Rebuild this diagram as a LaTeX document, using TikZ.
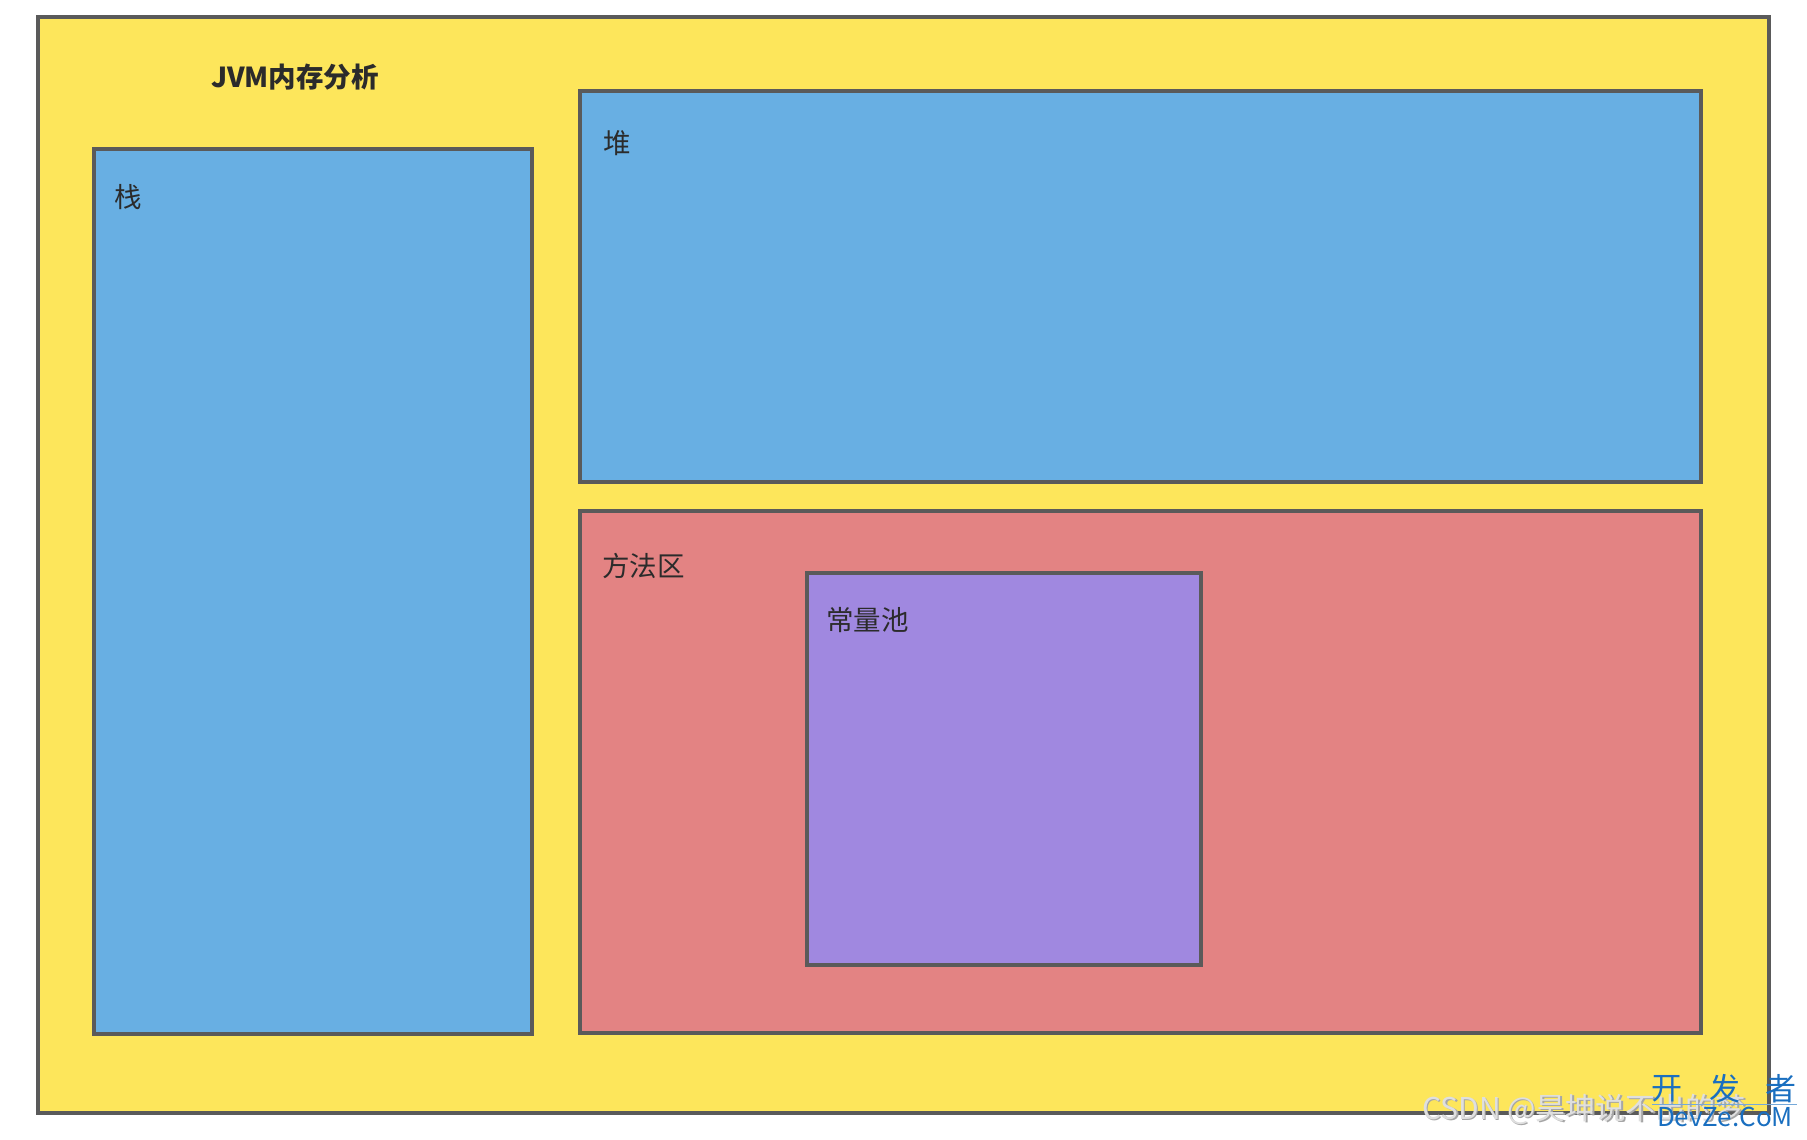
\documentclass[tikz,border=0pt]{standalone}
\usepackage{fontspec}
\setmainfont{Noto Sans CJK SC}
\newfontfamily\cjk{Noto Sans CJK SC}
\definecolor{bgyellow}{HTML}{FDE65B}
\definecolor{boxblue}{HTML}{68AFE3}
\definecolor{boxred}{HTML}{E38383}
\definecolor{boxpurple}{HTML}{A088E0}
\definecolor{edge}{HTML}{5A5A5A}
\definecolor{txt}{HTML}{2B2B2B}
\definecolor{wmblue}{HTML}{1A6FC0}
\begin{document}
\begin{tikzpicture}[x=1pt,y=-1pt,
  region/.style={draw=edge,line width=3.4pt},
  lbl/.style={anchor=west,inner sep=0pt,text=txt,font=\fontsize{27.5}{30}\selectfont\cjk}]
\useasboundingbox (0,0) rectangle (1807,1140);
\fill[white] (0,0) rectangle (1807,1140);
% outer
\draw[region,fill=bgyellow] (38,17) rectangle (1769,1113);
\node[inner sep=0pt,text=txt,font=\fontsize{27.5}{30}\selectfont\bfseries\cjk] (title) at (295,77) {JVM内存分析};
% stack
\draw[region,fill=boxblue] (94,149) rectangle (532,1034);
\node[lbl] (stack) at (114,197) {栈};
% heap
\draw[region,fill=boxblue] (580,91) rectangle (1701,482);
\node[lbl] (heap) at (603,143) {堆};
% method area
\draw[region,fill=boxred] (580,511) rectangle (1701,1033);
\node[lbl] (method) at (602,566) {方法区};
% constant pool
\draw[region,fill=boxpurple] (807,573) rectangle (1201,965);
\node[lbl] (pool) at (826,620) {常量池};
% watermark
\node[anchor=west,inner sep=0pt,text=gray!70,font=\fontsize{30}{32}\selectfont\cjk] (wmshadow) at (1423.5,1110.5) {CSDN @昊坤说不出的梦};
\node[anchor=west,inner sep=0pt,text=gray!25,font=\fontsize{30}{32}\selectfont\cjk] (wm) at (1422,1109) {CSDN @昊坤说不出的梦};
\node[inner sep=0pt,text=wmblue,font=\fontsize{31}{32}\selectfont\cjk] (k1) at (1667,1089) {开};
\node[inner sep=0pt,text=wmblue,font=\fontsize{31}{32}\selectfont\cjk] (k2) at (1725,1089) {发};
\node[inner sep=0pt,text=wmblue,font=\fontsize{31}{32}\selectfont\cjk] (k3) at (1781,1089) {者};
\draw[wmblue!60,line width=0.8pt] (1652,1104) -- (1797,1104);
\node[inner sep=0pt,text=wmblue,font=\fontsize{26}{28}\selectfont\cjk] (dz) at (1725,1117) {DevZe.CoM};
\end{tikzpicture}
\end{document}
